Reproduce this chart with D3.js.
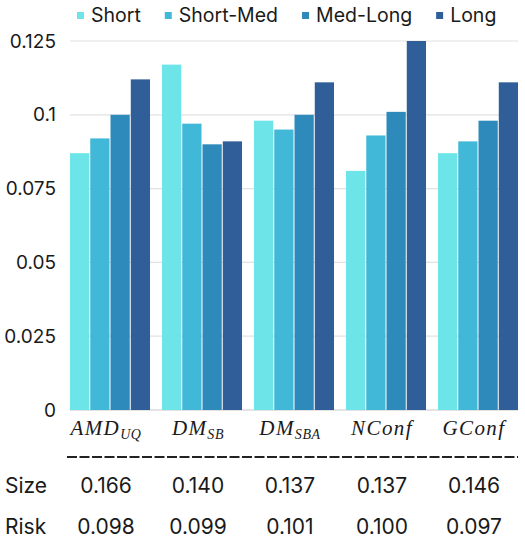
<!DOCTYPE html>
<html>
<head>
<meta charset="utf-8">
<script src="https://cdn.jsdelivr.net/npm/d3@7"></script>
<style>
  body { margin: 0; background: #fff; }
  text { font-family: "Inter", "Noto Sans", sans-serif; font-weight: 400; fill: #1a1a1a; }
  .math { font-family: "Liberation Serif", "DejaVu Serif", serif; font-style: italic; font-weight: 400; }
</style>
</head>
<body>
<svg id="chart" width="525" height="540"></svg>
<script>
// methods on the x axis, with their subscripts
let methods = ["AMD", "DM", "DM", "NConf", "GConf"],
    subs = ["UQ", "SB", "SBA", "", ""];
let seriesNames = ["Short", "Short-Med", "Med-Long", "Long"];
let colors = ["#6de5e8", "#42b8d8", "#2d8aba", "#2f5e98"];

// one array per series, same order as methods
let shortVals = [0.087, 0.117, 0.098, 0.081, 0.087],
    shortMedVals = [0.092, 0.097, 0.095, 0.093, 0.091],
    medLongVals = [0.100, 0.090, 0.100, 0.101, 0.098],
    longVals = [0.112, 0.091, 0.111, 0.125, 0.111];

let yTicks = [0, 0.025, 0.05, 0.075, 0.1, 0.125];
let sizeVals = ["0.166", "0.140", "0.137", "0.137", "0.146"],
    riskVals = ["0.098", "0.099", "0.101", "0.100", "0.097"];

let svg = d3.select("svg#chart"),
    plotTop = 41, plotBottom = 410;

let series = [shortVals, shortMedVals, medLongVals, longVals];
let data = methods.map((m, i) => ({
    key: i,
    values: series.map((s, j) => ({ name: seriesNames[j], value: s[i], color: colors[j] }))
}));

let x0 = d3.scaleBand()
    .domain(d3.range(methods.length))
    .range([64, 524])
    .paddingInner(0.13)
    .paddingOuter(0.065);

let x1 = d3.scaleBand()
    .domain(seriesNames)
    .range([0, x0.bandwidth()])
    .paddingInner(0.05);

let y = d3.scaleLinear().domain([0, 0.125]).range([plotBottom, plotTop]);

let gridLeft = x0(0), gridRight = x0(methods.length - 1) + x0.bandwidth();

// grid lines
svg.append("g")
    .selectAll("line")
    .data(yTicks)
    .enter()
    .append("line")
    .attr("x1", gridLeft)
    .attr("x2", gridRight)
    .attr("y1", d => y(d))
    .attr("y2", d => y(d))
    .attr("stroke", d => d === 0 ? "#c8c8c8" : "#e2e2e2")
    .attr("stroke-width", 1.2);

// y axis labels
let yAxis = d3.axisLeft(y)
    .tickValues(yTicks)
    .tickFormat(d3.format("~g"))
    .tickSize(0)
    .tickPadding(14);

svg.append("g")
    .attr("transform", `translate(${gridLeft},0)`)
    .call(yAxis)
    .call(g => g.select(".domain").remove())
    .selectAll("text")
    .attr("font-family", null)
    .attr("font-size", 19)
    .attr("fill", null);

// bars
let group = svg.selectAll(".group")
    .data(data)
    .enter()
    .append("g")
    .attr("class", "group")
    .attr("transform", d => `translate(${x0(d.key)},0)`);

group.selectAll("rect")
    .data(d => d.values)
    .enter()
    .append("rect")
    .attr("x", d => x1(d.name))
    .attr("y", d => y(d.value))
    .attr("width", x1.bandwidth())
    .attr("height", d => plotBottom - y(d.value))
    .attr("fill", d => d.color);

// x labels, math style
let xl = svg.append("g")
    .selectAll("text")
    .data(methods)
    .enter()
    .append("text")
    .attr("class", "math")
    .attr("x", (d, i) => x0(i) + x0.bandwidth() / 2 - 4)
    .attr("y", 435)
    .attr("text-anchor", "middle")
    .attr("font-size", 21)
    .attr("letter-spacing", 1.4);
xl.append("tspan").text(d => d);
xl.append("tspan")
    .attr("font-size", 14)
    .attr("dy", 4)
    .attr("letter-spacing", 0.6)
    .text((d, i) => subs[i]);

// dashed rule under the labels
svg.append("line")
    .attr("x1", 67)
    .attr("x2", gridRight)
    .attr("y1", 457)
    .attr("y2", 457)
    .attr("stroke", "#222")
    .attr("stroke-width", 2)
    .attr("stroke-dasharray", "10,2.5");

// table rows
let rows = [["Size", sizeVals, 493], ["Risk", riskVals, 534]];
rows.forEach(r => {
    svg.append("text")
        .attr("x", 5)
        .attr("y", r[2])
        .attr("font-size", 21)
        .text(r[0]);
    svg.append("g")
        .selectAll("text")
        .data(r[1])
        .enter()
        .append("text")
        .attr("x", (d, i) => x0(i) + x0.bandwidth() / 2 - 4)
        .attr("y", r[2])
        .attr("text-anchor", "middle")
        .attr("font-size", 21)
        .text(d => d);
});

// legend
let lx = 77;
seriesNames.forEach((name, i) => {
    svg.append("rect")
        .attr("x", lx)
        .attr("y", 12)
        .attr("width", 7)
        .attr("height", 7)
        .attr("fill", colors[i]);
    let t = svg.append("text")
        .attr("x", lx + 14)
        .attr("y", 22)
        .attr("font-size", 19.5)
        .text(name);
    lx += 14 + t.node().getComputedTextLength() + 24;
});
</script>
</body>
</html>
